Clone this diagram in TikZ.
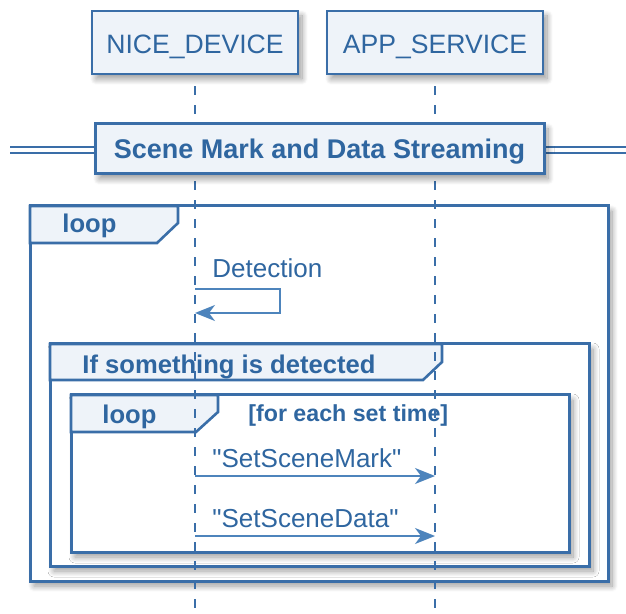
\documentclass[tikz,border=0pt]{standalone}
\usepackage{fontspec}
\setmainfont{Liberation Sans}[Ligatures=TeXOff]
\usetikzlibrary{arrows.meta,shadows.blur}

\definecolor{umlline}{HTML}{3A6EA8}
\definecolor{umltext}{HTML}{2F66A0}
\definecolor{umlfill}{HTML}{EEF3F9}
\definecolor{umlmsg}{HTML}{4D84BC}

\tikzset{
	softshadow/.style={blur shadow={shadow xshift=2pt, shadow yshift=-2.5pt, shadow blur radius=3pt, shadow opacity=40, shadow blur steps=12}},
	participant/.style={draw=umlline, line width=1.3pt, fill=umlfill, text=umltext, font=\fontsize{13.3}{16}\selectfont, minimum height=31.5pt, inner sep=0pt, text height=11pt, text depth=0pt, softshadow},
	divider/.style={draw=umlline, line width=1.5pt, fill=umlfill, text=umltext, font=\bfseries\fontsize{13.5}{16}\selectfont, minimum width=224.5pt, minimum height=25pt, inner sep=0pt, text height=9.7pt, text depth=0pt, softshadow},
	sepline/.style={draw=umlline, line width=0.9pt, double=white, double distance=2pt},
	frame/.style={draw=umlline, line width=1.5pt, fill=white, softshadow},
	tab/.style={draw=umlline, line width=1.3pt, fill=umlfill, line join=miter},
	lifeline/.style={draw=umlline, line width=0.8pt, dash pattern=on 4.5pt off 5pt},
	msg/.style={draw=umlmsg, line width=0.9pt, -{Stealth[length=10pt,width=8pt,inset=3pt]}},
	lbl/.style={text=umltext, font=\fontsize{13}{15}\selectfont, inner sep=0pt, anchor=base west},
	tablbl/.style={lbl, font=\bfseries\fontsize{12.8}{15}\selectfont},
}

\begin{document}
\begin{tikzpicture}[x=0.5pt, y=-0.5pt]
	\useasboundingbox (0,0) rectangle (626,614);

	% frames
	\draw[frame] (30,206) rectangle (608,581);
	\draw[frame] (50,344) rectangle (589,566);
	\draw[frame] (71,395) rectangle (569,552);
	\filldraw[tab] (30,206) -- (178,206) -- (178,223) -- (157,243) -- (30,243) -- cycle;
	\filldraw[tab] (50,344) -- (442,344) -- (442,362) -- (423,380) -- (50,380) -- cycle;
	\filldraw[tab] (71,395) -- (218,395) -- (218,412) -- (196,432) -- (71,432) -- cycle;

	\node[tablbl] (loopa) at (62,233) {loop};
	\node[tablbl] (alt) at (82,373) {If something is detected};
	\node[tablbl] (loopb) at (102,423) {loop};
	\node[tablbl, font=\bfseries\fontsize{11.6}{14}\selectfont] (guard) at (248,422) {[for each set time]};

	% participants
	\node[participant, minimum width=103pt] (dev) at (195,42.5) {NICE\_DEVICE};
	\node[participant, minimum width=108pt] (app) at (435,42.5) {APP\_SERVICE};

	\coordinate (bottom) at (0,614);
	\draw[lifeline] ([yshift=-5.5pt]dev.south) -- (dev |- bottom);
	\draw[lifeline] ([yshift=-5.5pt]app.south) -- (app |- bottom);

	% section divider
	\coordinate (sepl) at (10,150);
	\coordinate (sepr) at (626,150);
	\draw[sepline] (sepl) -- (sepr);
	\node[divider] (sec) at (319.5,149) {Scene Mark and Data Streaming};

	% messages
	\coordinate (d1) at (0,289);
	\coordinate (d2) at (0,313);
	\coordinate (m1) at (0,476);
	\coordinate (m2) at (0,536);
	\node[lbl] (tdet) at (212,278) {Detection};
	\draw[msg] (dev |- d1) -- ++(85,0) -- ++(0,24) -- (dev |- d2);
	\node[lbl] (tmark) at (212,467) {"SetSceneMark"};
	\draw[msg] (dev |- m1) -- (app |- m1);
	\node[lbl] (tdata) at (212,527) {"SetSceneData"};
	\draw[msg] (dev |- m2) -- (app |- m2);
\end{tikzpicture}
\end{document}
